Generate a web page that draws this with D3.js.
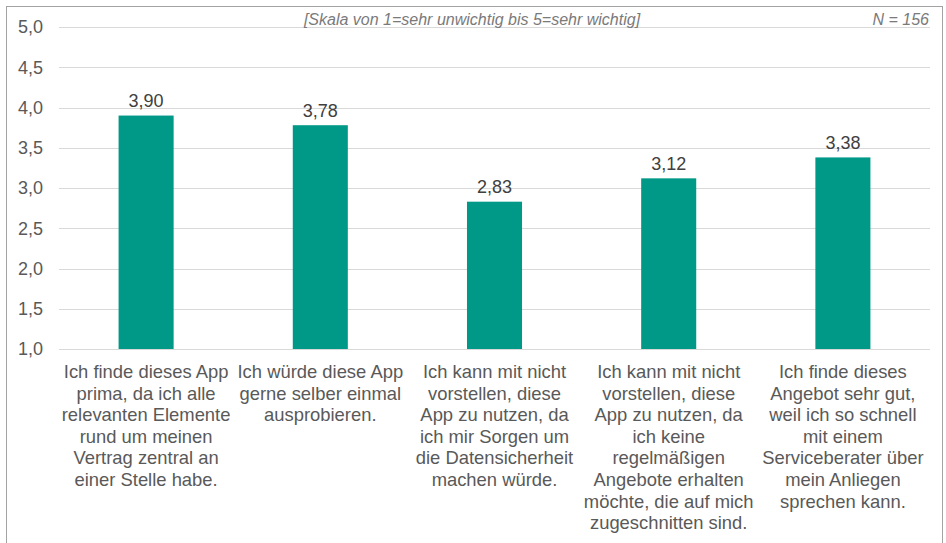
<!DOCTYPE html>
<html>
<head>
<meta charset="utf-8">
<script src="https://cdn.jsdelivr.net/npm/d3@7/dist/d3.min.js"></script>
<style>
  html, body { margin: 0; padding: 0; background: #fff; }
  svg { display: block; font-family: "Liberation Sans", Arial, sans-serif; }
</style>
</head>
<body>
<svg id="chart" width="946" height="543"></svg>
<script>
// Statements (line breaks as in the axis labels)
const categories = [
  "Ich finde dieses App\nprima, da ich alle\nrelevanten Elemente\nrund um meinen\nVertrag zentral an\neiner Stelle habe.",
  "Ich würde diese App\ngerne selber einmal\nausprobieren.",
  "Ich kann mit nicht\nvorstellen, diese\nApp zu nutzen, da\nich mir Sorgen um\ndie Datensicherheit\nmachen würde.",
  "Ich kann mit nicht\nvorstellen, diese\nApp zu nutzen, da\nich keine\nregelmäßigen\nAngebote erhalten\nmöchte, die auf mich\nzugeschnitten sind.",
  "Ich finde dieses\nAngebot sehr gut,\nweil ich so schnell\nmit einem\nServiceberater über\nmein Anliegen\nsprechen kann."
];
// Mean ratings
const values = [3.90, 3.78, 2.83, 3.12, 3.38];
// Y axis ticks
const yTicks = [1.0, 1.5, 2.0, 2.5, 3.0, 3.5, 4.0, 4.5, 5.0];
const scaleNote = "[Skala von 1=sehr unwichtig bis 5=sehr wichtig]";
const sampleNote = "N = 156";

const svg = d3.select("#chart");
const fmt = v => d3.format(".2f")(v).replace(".", ",");
const fmtTick = v => d3.format(".1f")(v).replace(".", ",");

const plot = { left: 59, right: 930, top: 27, bottom: 349 };

const x = d3.scaleBand()
  .domain(d3.range(categories.length))
  .range([plot.left, plot.right])
  .paddingInner(0.684)
  .paddingOuter(0.342);

const y = d3.scaleLinear().domain([1, 5]).range([plot.bottom, plot.top]);

// Outer frame
svg.append("rect")
  .attr("x", 6.5).attr("y", 6.5)
  .attr("width", 936).attr("height", 560)
  .attr("fill", "none")
  .attr("stroke", "#a3a3a3")
  .attr("stroke-width", 1);

// Gridlines
svg.append("g")
  .selectAll("line")
  .data(yTicks)
  .join("line")
  .attr("x1", plot.left).attr("x2", plot.right)
  .attr("y1", d => Math.round(y(d)) + 0.5)
  .attr("y2", d => Math.round(y(d)) + 0.5)
  .attr("stroke", "#d9d9d9")
  .attr("stroke-width", 1);

// Y axis labels
const yAxis = d3.axisLeft(y).tickValues(yTicks).tickFormat(fmtTick).tickSize(0).tickPadding(0);
const yg = svg.append("g").attr("transform", "translate(43,0)").call(yAxis);
yg.select(".domain").remove();
yg.selectAll("text")
  .attr("fill", "#595959")
  .attr("font-size", "18px")
  .attr("font-family", "Liberation Sans, Arial, sans-serif");

// Bars
svg.append("g")
  .selectAll("rect")
  .data(values)
  .join("rect")
  .attr("x", (d, i) => x(i))
  .attr("width", x.bandwidth())
  .attr("y", d => y(d))
  .attr("height", d => y(1) - y(d))
  .attr("fill", "#009987");

// Value labels
svg.append("g")
  .selectAll("text")
  .data(values)
  .join("text")
  .attr("x", (d, i) => x(i) + x.bandwidth() / 2)
  .attr("y", d => y(d) - 8.5)
  .attr("text-anchor", "middle")
  .attr("fill", "#404040")
  .attr("font-size", "18px")
  .text(d => fmt(d));

// Category labels
const cg = svg.append("g")
  .selectAll("text")
  .data(categories)
  .join("text")
  .attr("text-anchor", "middle")
  .attr("fill", "#595959")
  .attr("font-size", "18.4px");
cg.each(function(d, i) {
  const t = d3.select(this);
  const cx = x(i) + x.bandwidth() / 2;
  d.split("\n").forEach((line, k) => {
    t.append("tspan")
      .attr("x", cx)
      .attr("y", plot.bottom + 29 + k * 21.6)
      .text(line);
  });
});

// Notes at top
svg.append("text")
  .attr("x", 472).attr("y", 25)
  .attr("text-anchor", "middle")
  .attr("font-style", "italic")
  .attr("font-size", "16px")
  .attr("fill", "#7a7a7a")
  .text(scaleNote);
svg.append("text")
  .attr("x", 929).attr("y", 25)
  .attr("text-anchor", "end")
  .attr("font-style", "italic")
  .attr("font-size", "16px")
  .attr("fill", "#7a7a7a")
  .text(sampleNote);
</script>
</body>
</html>
